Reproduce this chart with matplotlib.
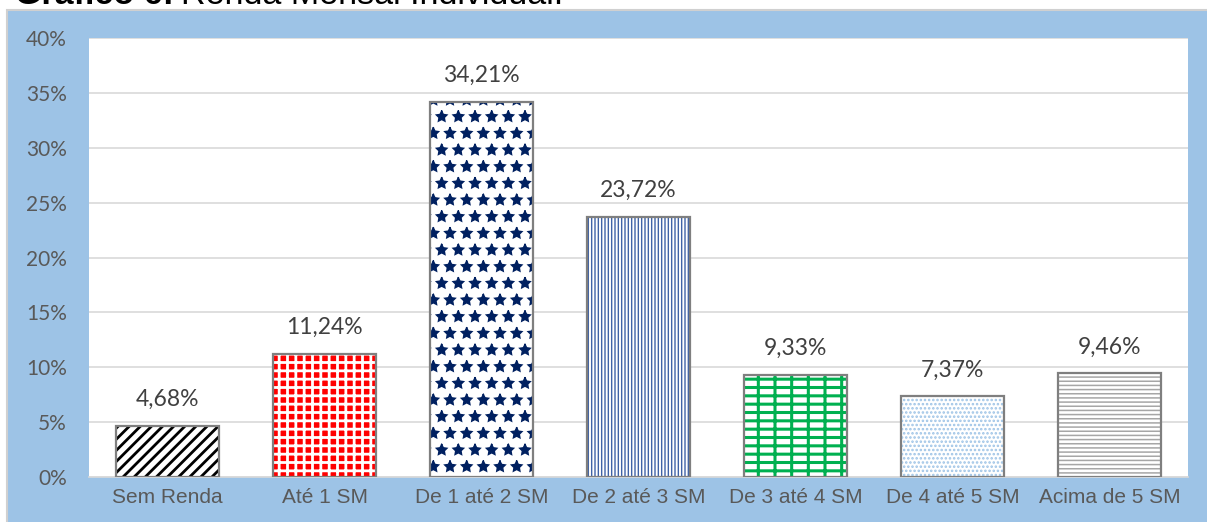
import matplotlib
matplotlib.use('Agg')
import matplotlib.pyplot as plt
from matplotlib.patches import Rectangle

categories = ['Sem Renda', 'Até 1 SM', 'De 1 até 2 SM', 'De 2 até 3 SM',
              'De 3 até 4 SM', 'De 4 até 5 SM', 'Acima de 5 SM']
values = [4.68, 11.24, 34.21, 23.72, 9.33, 7.37, 9.46]
labels = ['4,68%', '11,24%', '34,21%', '23,72%', '9,33%', '7,37%', '9,46%']
yticks = [0, 5, 10, 15, 20, 25, 30, 35, 40]

# fill look of each bar (Excel pattern fills, approximated with hatches)
faces = ['white', 'red', 'white', 'white', 'white', 'white', 'white']
hatch_colors = ['black', 'white', '#002060', '#3F62A6', '#00B050', '#9DC3E6', '#A6A6A6']
hatches = ['///', '++', '*', '|||||', '-+', '....', '----']
hatch_widths = [2.0, 2.0, 1.0, 1.0, 2.2, 1.2, 1.1]

W, H = 1207, 522
fig = plt.figure(figsize=(W / 100, H / 100), dpi=100)

# blue chart area with grey frame, cut by the page edge
fig.patches.append(Rectangle((7 / W, -0.1), 1.2, 1 - 10 / H + 0.1,
                             transform=fig.transFigure, facecolor='#9DC3E6',
                             edgecolor='#D0D0D0', linewidth=1.5, zorder=0))

# title, mostly cut off at the top (as in the source picture)
t1 = fig.text(15 / W, 1 - 4 / H, 'Gráfico 6:', fontsize=24.5, fontweight='bold',
              family='Liberation Sans', va='baseline', ha='left')
fig.canvas.draw()
bb = t1.get_window_extent()
fig.text((bb.x1 + 7) / W, 1 - 4 / H, 'Renda Mensal Individual.', fontsize=24.5,
         family='Liberation Sans', va='baseline', ha='left')

ax = fig.add_axes([89 / W, 1 - 477 / H, (1188 - 89) / W, (477 - 38) / H])
ax.set_facecolor('white')
ax.set_zorder(2)

x = range(len(categories))
for i in x:
    b = ax.bar(i, values[i], width=0.65, color=faces[i], edgecolor=hatch_colors[i],
               linewidth=0, hatch=hatches[i], zorder=3)
    for p in b:
        if hasattr(p, 'set_hatch_linewidth'):
            p.set_hatch_linewidth(hatch_widths[i])
ax.bar(x, values, width=0.65, fill=False, edgecolor='#7F7F7F', linewidth=1.6, zorder=4)

for i in x:
    ax.annotate(labels[i], (i, values[i]), xytext=(0, 14), textcoords='offset points',
                ha='center', va='baseline', fontsize=16.5, color='#404040', family='Lato')

ax.set_xlim(-0.5, len(categories) - 0.5)
ax.set_ylim(0, 40)
ax.set_yticks(yticks)
ax.set_yticklabels([f'{v}%' for v in yticks], fontsize=15, color='#595959', family='Lato')
ax.set_xticks(list(x))
ax.set_xticklabels(categories, fontsize=15, color='#595959', family='Liberation Sans')
ax.tick_params(axis='both', length=0)
ax.tick_params(axis='y', pad=16)
ax.tick_params(axis='x', pad=8)
ax.grid(axis='y', color='#D9D9D9', linewidth=1.2, zorder=1)
ax.set_axisbelow(True)
for s in ['top', 'left', 'right']:
    ax.spines[s].set_visible(False)
ax.spines['bottom'].set_color('#D9D9D9')
ax.spines['bottom'].set_linewidth(1.2)

fig.savefig('out.png', dpi=100)
